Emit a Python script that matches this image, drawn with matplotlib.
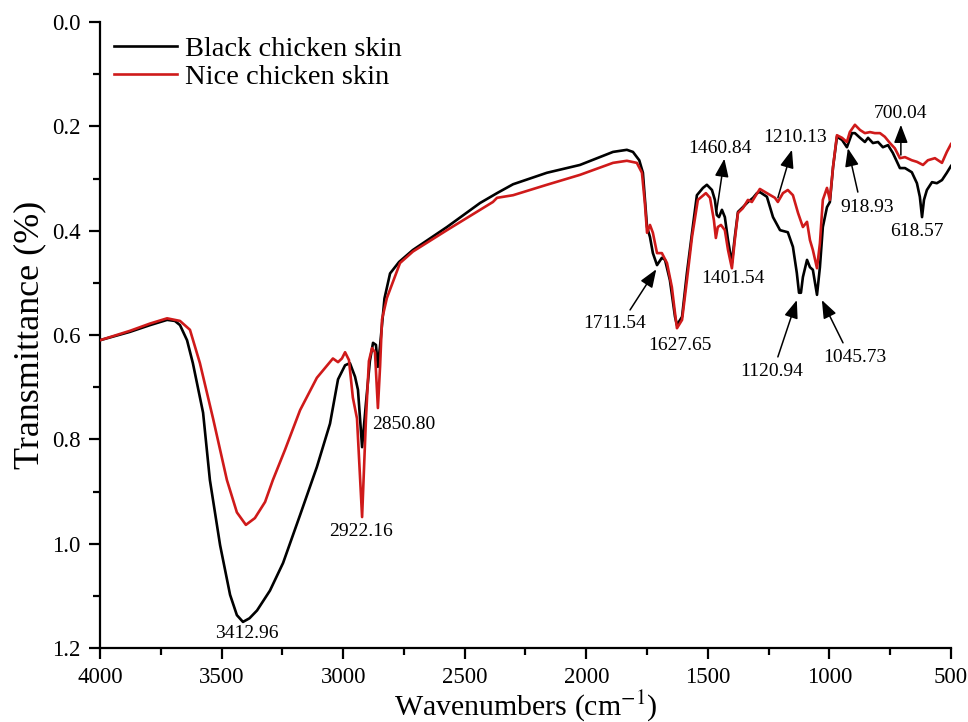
"""FTIR spectra of black vs nice chicken skin."""

import matplotlib

matplotlib.use("Agg")
import matplotlib.pyplot as plt
from matplotlib.ticker import MultipleLocator

plt.rcParams["font.family"] = ["Liberation Serif", "DejaVu Serif"]
plt.rcParams["mathtext.fontset"] = "stix"

# Black chicken skin: wavenumber (cm-1) and transmittance
black_wn = [4000, 3877, 3794, 3724, 3692, 3671, 3642, 3618, 3576, 3548,
            3506, 3465, 3437, 3412, 3385, 3354, 3301, 3247, 3177, 3108,
            3054, 3021, 2992, 2972, 2951, 2939, 2922, 2906, 2890, 2877,
            2865, 2857, 2848, 2840, 2830, 2807, 2770, 2713, 2573, 2437,
            2367, 2301, 2162, 2026, 1890, 1833, 1808, 1782, 1767, 1750,
            1738, 1726, 1709, 1689, 1676, 1656, 1635, 1627, 1606, 1586,
            1565, 1545, 1520, 1504, 1483, 1471, 1463, 1454, 1442, 1430,
            1417, 1401, 1389, 1376, 1356, 1335, 1314, 1298, 1286, 1257,
            1232, 1203, 1171, 1150, 1134, 1125, 1117, 1109, 1092, 1080,
            1068, 1051, 1039, 1027, 1010, 998, 985, 969, 948, 928,
            907, 895, 874, 854, 841, 821, 800, 780, 759, 739,
            710, 689, 661, 640, 628, 619, 611, 599, 578, 558,
            537, 517, 500]
black_t = [0.610, 0.594, 0.581, 0.571, 0.573, 0.581, 0.610, 0.654, 0.749, 0.878,
           1.003, 1.098, 1.137, 1.150, 1.143, 1.128, 1.090, 1.037, 0.945, 0.853,
           0.770, 0.685, 0.658, 0.654, 0.680, 0.705, 0.815, 0.730, 0.650, 0.615,
           0.619, 0.661, 0.620, 0.580, 0.530, 0.482, 0.460, 0.437, 0.393, 0.347,
           0.328, 0.311, 0.289, 0.274, 0.249, 0.245, 0.249, 0.265, 0.289, 0.393,
           0.412, 0.443, 0.466, 0.452, 0.456, 0.495, 0.565, 0.581, 0.565, 0.481,
           0.404, 0.332, 0.318, 0.312, 0.322, 0.341, 0.370, 0.374, 0.360, 0.374,
           0.418, 0.462, 0.412, 0.364, 0.355, 0.345, 0.337, 0.328, 0.326, 0.335,
           0.374, 0.399, 0.403, 0.431, 0.481, 0.519, 0.519, 0.489, 0.456, 0.470,
           0.475, 0.523, 0.470, 0.393, 0.355, 0.345, 0.278, 0.220, 0.226, 0.240,
           0.213, 0.213, 0.222, 0.230, 0.222, 0.232, 0.230, 0.240, 0.236, 0.251,
           0.280, 0.280, 0.288, 0.309, 0.335, 0.374, 0.341, 0.322, 0.307, 0.309,
           0.303, 0.289, 0.276]

# Nice chicken skin
nice_wn = [4000, 3877, 3794, 3724, 3671, 3630, 3589, 3535, 3478, 3437,
           3400, 3363, 3321, 3289, 3239, 3177, 3108, 3042, 3021, 3005,
           2992, 2976, 2960, 2943, 2922, 2906, 2894, 2881, 2869, 2857,
           2848, 2840, 2820, 2766, 2713, 2573, 2384, 2367, 2301, 2162,
           2026, 1890, 1833, 1792, 1771, 1759, 1750, 1738, 1726, 1709,
           1689, 1668, 1648, 1635, 1627, 1606, 1586, 1565, 1541, 1508,
           1491, 1475, 1467, 1459, 1446, 1430, 1417, 1401, 1389, 1376,
           1356, 1335, 1319, 1306, 1286, 1257, 1224, 1212, 1191, 1171,
           1150, 1129, 1109, 1092, 1080, 1068, 1051, 1039, 1027, 1010,
           998, 985, 969, 948, 928, 916, 895, 874, 854, 833,
           813, 792, 772, 751, 731, 710, 689, 661, 640, 615,
           595, 566, 537, 517, 500]
nice_t = [0.610, 0.592, 0.578, 0.568, 0.573, 0.590, 0.654, 0.760, 0.878, 0.940,
          0.964, 0.951, 0.920, 0.878, 0.820, 0.744, 0.682, 0.645, 0.652, 0.645,
          0.633, 0.648, 0.720, 0.760, 0.949, 0.760, 0.650, 0.625, 0.633, 0.740,
          0.660, 0.570, 0.529, 0.462, 0.440, 0.399, 0.345, 0.337, 0.332, 0.312,
          0.293, 0.270, 0.266, 0.270, 0.289, 0.347, 0.404, 0.389, 0.404, 0.443,
          0.443, 0.462, 0.508, 0.558, 0.587, 0.571, 0.495, 0.412, 0.341, 0.328,
          0.337, 0.380, 0.414, 0.393, 0.389, 0.399, 0.437, 0.472, 0.418, 0.366,
          0.357, 0.341, 0.345, 0.335, 0.320, 0.328, 0.337, 0.345, 0.328, 0.322,
          0.332, 0.366, 0.393, 0.383, 0.418, 0.437, 0.472, 0.424, 0.341, 0.318,
          0.341, 0.278, 0.217, 0.222, 0.230, 0.211, 0.197, 0.207, 0.213, 0.211,
          0.213, 0.213, 0.220, 0.232, 0.242, 0.261, 0.259, 0.265, 0.268, 0.274,
          0.265, 0.261, 0.270, 0.249, 0.234]

# peak labels: text, text position, arrow tail, arrow head (None = no arrow)
peak_labels = ["3412.96", "2922.16", "2850.80", "1711.54", "1627.65",
               "1460.84", "1401.54", "1210.13", "1120.94", "1045.73",
               "918.93", "700.04", "618.57"]
label_xy = [(3395, 1.172), (2926, 0.976), (2750, 0.771), (1882, 0.577), (1615, 0.621),
            (1450, 0.242), (1397, 0.491), (1142, 0.222), (1236, 0.669), (895, 0.644),
            (846, 0.355), (706, 0.176), (640, 0.401)]
arrow_tail = [None, None, None, (1820, 0.552), None,
              (1463, 0.360), None, (1212, 0.337), (1212, 0.642), (944, 0.615),
              (883, 0.326), (706, 0.255), None]
arrow_head = [None, None, None, (1712, 0.474), None,
              (1432, 0.262), None, (1154, 0.245), (1134, 0.533), (1031, 0.533),
              (924, 0.242), (706, 0.197), None]

fig = plt.figure(figsize=(9.68, 7.22), dpi=100)
ax = fig.add_axes([0.1033, 0.1025, 0.8791, 0.867])

ax.plot(black_wn, black_t, color="black", lw=1.9, label="Black chicken skin", zorder=3)
ax.plot(nice_wn, nice_t, color="#cf1a1a", lw=1.9, label="Nice chicken skin", zorder=3)

for text, xy, tail, head in zip(peak_labels, label_xy, arrow_tail, arrow_head):
    ax.text(xy[0], xy[1], text, ha="center", va="center", fontsize=14)
    if tail is not None:
        ax.annotate("", xy=head, xytext=tail,
                    arrowprops=dict(arrowstyle="-|>,head_length=1.1,head_width=0.42",
                                    color="black", lw=1.1, shrinkA=0, shrinkB=0))

ax.set_xlim(4000, 500)
ax.set_ylim(1.2, 0.0)
ax.xaxis.set_major_locator(MultipleLocator(500))
ax.xaxis.set_minor_locator(MultipleLocator(250))
ax.yaxis.set_major_locator(MultipleLocator(0.2))
ax.yaxis.set_minor_locator(MultipleLocator(0.1))
ax.yaxis.set_major_formatter(plt.FormatStrFormatter("%.1f"))

for side in ("top", "right"):
    ax.spines[side].set_visible(False)
for side in ("left", "bottom"):
    ax.spines[side].set_linewidth(1.6)
ax.tick_params(which="major", direction="out", length=8, width=1.6, labelsize=16.5, pad=6)
ax.tick_params(which="minor", direction="out", length=5, width=1.6)

ax.set_xlabel("Wavenumbers (cm$^{-1}$)", fontsize=21.5, labelpad=0)
ax.set_ylabel("Transmittance (%)", fontsize=26, labelpad=4)

ax.legend(loc="upper left", bbox_to_anchor=(0.0, 1.0), frameon=False, fontsize=20.5,
          handlelength=2.2, handletextpad=0.3, labelspacing=0.05, borderaxespad=0.1)

fig.savefig("out.png", dpi=100)
